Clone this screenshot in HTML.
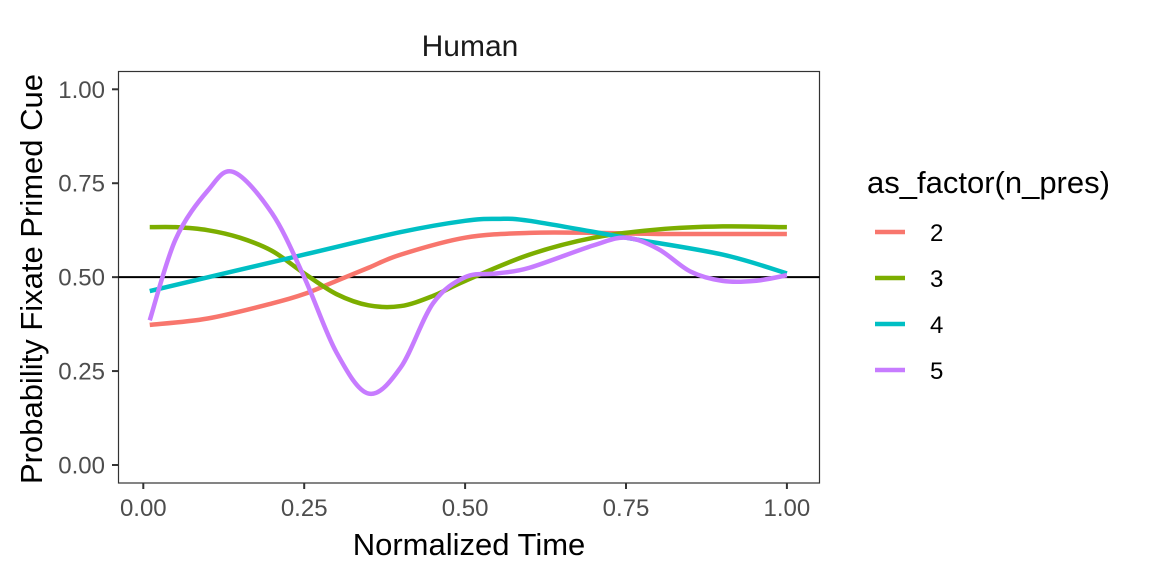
<!DOCTYPE html>
<html><head><meta charset="utf-8"><style>
body{margin:0;background:#fff;}
text{font-family:"Liberation Sans",Arial,sans-serif;}
</style></head><body>
<svg id="chart" width="1152" height="576" viewBox="0 0 1152 576" xmlns="http://www.w3.org/2000/svg">
<rect width="1152" height="576" fill="#fff"/>
<text x="470" y="56" font-size="30" text-anchor="middle" fill="#1a1a1a">Human</text>
<g id="plot"></g>
<text x="469" y="555" font-size="31" text-anchor="middle" fill="#000">Normalized Time</text>
<text transform="translate(42,279) rotate(-90)" font-size="31" text-anchor="middle" fill="#000">Probability Fixate Primed Cue</text>
<g id="legend">
<text x="867" y="193" font-size="31" fill="#000">as_factor(n_pres)</text>
</g>
</svg>
<script>
const xTicks=[0,0.25,0.5,0.75,1];
const xTickLabels=["0.00","0.25","0.50","0.75","1.00"];
const yTicks=[0,0.25,0.5,0.75,1];
const yTickLabels=["0.00","0.25","0.50","0.75","1.00"];
const seriesNames=["2","3","4","5"];
const seriesColors=["#F8766D","#7CAE00","#00BFC4","#C77CFF"];
const xs2=[0.01,0.1,0.2,0.25,0.3,0.35,0.4,0.5,0.6,0.7,0.8,1.0];
const ys2=[0.373,0.39,0.43,0.455,0.49,0.525,0.56,0.605,0.618,0.618,0.615,0.615];
const xs3=[0.01,0.05,0.1,0.15,0.2,0.25,0.3,0.35,0.4,0.45,0.5,0.6,0.7,0.8,0.9,1.0];
const ys3=[0.633,0.633,0.625,0.605,0.57,0.51,0.455,0.425,0.423,0.45,0.49,0.56,0.605,0.627,0.635,0.633];
const xs4=[0.01,0.25,0.4,0.5,0.55,0.6,0.75,0.9,1.0];
const ys4=[0.463,0.56,0.62,0.65,0.655,0.65,0.605,0.56,0.51];
const xs5=[0.01,0.05,0.1,0.14,0.2,0.25,0.3,0.35,0.4,0.45,0.5,0.55,0.6,0.7,0.75,0.8,0.85,0.9,0.95,1.0];
const ys5=[0.385,0.6,0.73,0.78,0.67,0.5,0.3,0.19,0.26,0.43,0.5,0.51,0.525,0.585,0.605,0.575,0.515,0.49,0.49,0.505];
const seriesX=[xs2,xs3,xs4,xs5], seriesY=[ys2,ys3,ys4,ys5];

const NS="http://www.w3.org/2000/svg";
const X=v=>143.3+v*643.6, Y=v=>465-v*375.7;
const g=document.getElementById('plot');
function mk(t,a,p){const e=document.createElementNS(NS,t);for(const k in a)e.setAttribute(k,a[k]);(p||g).appendChild(e);return e;}
const frame=mk('rect',{x:118.5,y:71.5,width:701,height:411.5,fill:'none',stroke:'#333','stroke-width':1.2});


xTicks.forEach((v,i)=>{
  const t=mk('line',{x1:X(v),x2:X(v),y1:483,y2:489,stroke:'#333','stroke-width':2});
  
  
  const l=mk('text',{x:X(v),y:516,'font-size':24,'text-anchor':'middle',fill:'#4d4d4d'});l.textContent=xTickLabels[i];
  
  
});
yTicks.forEach((v,i)=>{
  const t=mk('line',{x1:112,x2:118.5,y1:Y(v),y2:Y(v),stroke:'#333','stroke-width':2});
  
  
  const l=mk('text',{x:105,y:Y(v)+8.5,'font-size':24,'text-anchor':'end',fill:'#4d4d4d'});l.textContent=yTickLabels[i];
  
  
});
const ref=mk('line',{x1:118.5,x2:819.5,y1:Y(0.5),y2:Y(0.5),stroke:'#000','stroke-width':2});


function pathFor(xs,ys){
  const p=xs.map((x,i)=>[X(x),Y(ys[i])]);
  let d='M'+p[0][0]+','+p[0][1];
  for(let i=0;i<p.length-1;i++){
    const p0=p[i-1]||p[i],p1=p[i],p2=p[i+1],p3=p[i+2]||p2;
    const c1=[p1[0]+(p2[0]-p0[0])/6,p1[1]+(p2[1]-p0[1])/6];
    const c2=[p2[0]-(p3[0]-p1[0])/6,p2[1]-(p3[1]-p1[1])/6];
    d+=` C${c1[0]},${c1[1]} ${c2[0]},${c2[1]} ${p2[0]},${p2[1]}`;
  }
  return d;
}
seriesNames.forEach((n,i)=>{
  const s=mk('path',{d:pathFor(seriesX[i],seriesY[i]),fill:'none',stroke:seriesColors[i],'stroke-width':4.5,'stroke-linejoin':'round'});
  
  
});
const lg=document.getElementById('legend');
seriesNames.forEach((n,i)=>{
  const y=232+i*46;
  const k=mk('line',{x1:875,x2:905,y1:y,y2:y,stroke:seriesColors[i],'stroke-width':4.5},lg);
  
  
  const t=mk('text',{x:930,y:y+9,'font-size':24,fill:'#000'},lg);t.textContent=n;
  
  
});
</script>
</body></html>
